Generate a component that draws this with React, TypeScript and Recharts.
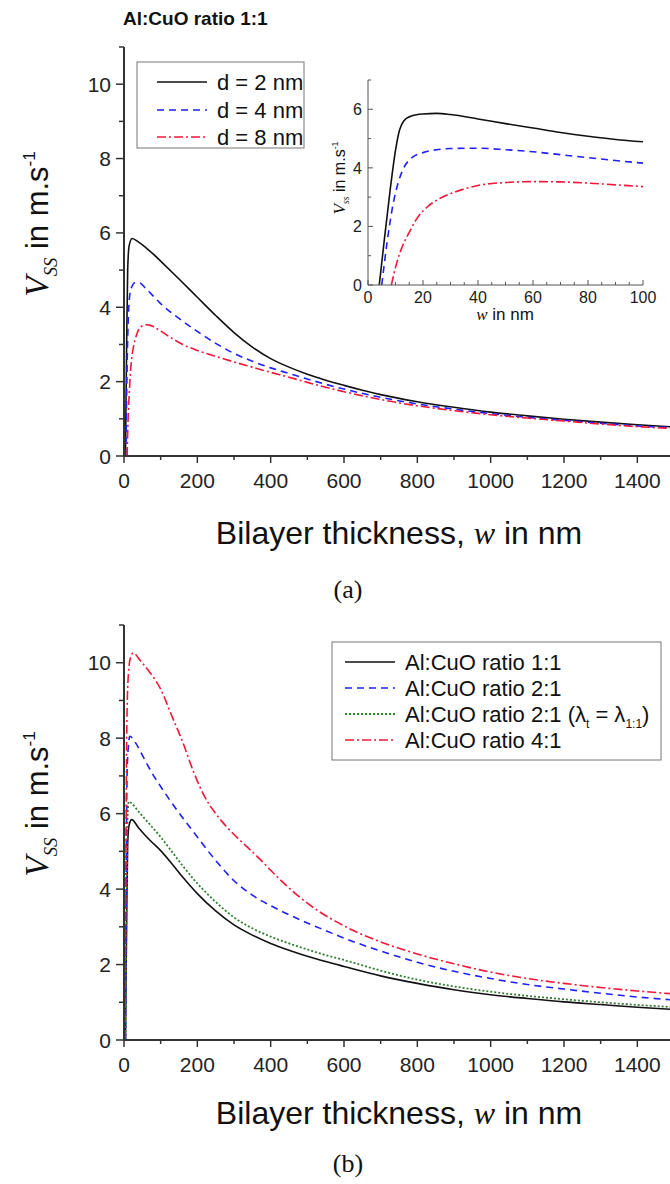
import React from 'react';
import { LineChart, Line, XAxis, YAxis } from 'recharts';

// ---- data ----
// (a) main panel, Vss vs bilayer thickness w (nm)
const A_D2: [number, number][] = [
  [4, 0], [7, 2.8], [10, 5.0], [14, 5.65], [22, 5.85], [40, 5.75], [60, 5.6], [80, 5.43], [100, 5.24],
  [150, 4.76], [200, 4.27], [250, 3.78], [300, 3.32], [350, 2.93], [400, 2.62], [450, 2.39], [500, 2.2],
  [550, 2.04], [600, 1.9], [650, 1.77], [700, 1.65], [800, 1.46], [900, 1.31], [1000, 1.18],
  [1100, 1.08], [1200, 0.99], [1300, 0.91], [1400, 0.84], [1500, 0.78],
];
const A_D4: [number, number][] = [
  [5, 0], [7, 1.5], [9, 2.7], [11, 3.5], [13, 4.0], [16, 4.35], [20, 4.52], [30, 4.66], [40, 4.66],
  [60, 4.5], [80, 4.3], [100, 4.1], [150, 3.7], [200, 3.35], [250, 3.03], [300, 2.76], [350, 2.55],
  [400, 2.37], [450, 2.22], [500, 2.07], [600, 1.8], [700, 1.58], [800, 1.4], [900, 1.26], [1000, 1.14],
  [1100, 1.04], [1200, 0.96], [1300, 0.88], [1400, 0.81], [1500, 0.76],
];
const A_D8: [number, number][] = [
  [8.5, 0], [10, 0.6], [12, 1.2], [15, 1.8], [18, 2.3], [22, 2.7], [26, 2.95], [30, 3.12], [35, 3.28],
  [40, 3.4], [50, 3.5], [60, 3.53], [70, 3.52], [80, 3.48], [100, 3.36], [130, 3.17], [160, 3.0],
  [200, 2.84], [250, 2.68], [300, 2.53], [350, 2.39], [400, 2.25], [450, 2.12], [500, 1.98], [550, 1.85],
  [600, 1.73], [700, 1.52], [800, 1.35], [900, 1.22], [1000, 1.11], [1100, 1.02], [1200, 0.94],
  [1300, 0.86], [1400, 0.79], [1500, 0.74],
];

// (b) main panel
const B_R11: [number, number][] = [
  [4, 0], [7, 3.0], [10, 5.2], [14, 5.7], [21, 5.84], [40, 5.62], [70, 5.3], [100, 5.02], [130, 4.68],
  [160, 4.32], [200, 3.88], [250, 3.42], [300, 3.05], [350, 2.78], [400, 2.56], [450, 2.38], [500, 2.22],
  [550, 2.08], [600, 1.95], [700, 1.7], [800, 1.5], [900, 1.33], [1000, 1.2], [1100, 1.1], [1200, 1.01],
  [1300, 0.94], [1400, 0.87], [1500, 0.81],
];
const B_R21: [number, number][] = [
  [4, 0], [6, 4.5], [9, 7.3], [16, 8.05], [30, 7.9], [50, 7.55], [75, 7.1], [100, 6.72], [125, 6.36],
  [150, 6.02], [175, 5.7], [200, 5.38], [250, 4.76], [300, 4.22], [350, 3.84], [400, 3.56], [450, 3.32],
  [500, 3.1], [550, 2.9], [600, 2.7], [700, 2.36], [800, 2.06], [900, 1.82], [1000, 1.63], [1100, 1.47],
  [1200, 1.35], [1300, 1.24], [1400, 1.14], [1500, 1.06],
];
const B_R21L: [number, number][] = [
  [4, 0], [7, 3.5], [10, 6.0], [13, 6.32], [20, 6.28], [40, 6.05], [70, 5.72], [100, 5.38], [130, 5.0],
  [160, 4.62], [200, 4.15], [250, 3.66], [300, 3.25], [350, 2.96], [400, 2.74], [450, 2.56], [500, 2.4],
  [550, 2.25], [600, 2.12], [700, 1.84], [800, 1.6], [900, 1.42], [1000, 1.28], [1100, 1.17],
  [1200, 1.08], [1300, 1.0], [1400, 0.93], [1500, 0.87],
];
const B_R41: [number, number][] = [
  [3, 0], [5, 4.5], [8, 8.5], [12, 9.7], [18, 10.15], [25, 10.26], [45, 10.05], [70, 9.75], [100, 9.3],
  [130, 8.6], [160, 7.9], [190, 7.1], [220, 6.45], [250, 6.0], [280, 5.65], [310, 5.35], [340, 5.08],
  [370, 4.8], [400, 4.5], [440, 4.12], [480, 3.78], [530, 3.42], [580, 3.13], [630, 2.88], [700, 2.6],
  [800, 2.28], [900, 2.02], [1000, 1.8], [1100, 1.63], [1200, 1.5], [1300, 1.39], [1400, 1.3], [1500, 1.22],
];

// inset of (a), 0-100 nm
const IN_D2: [number, number][] = [
  [4.1, 0], [6, 1.6], [8, 3.2], [10, 4.6], [11.5, 5.3], [13, 5.6], [16, 5.78], [20, 5.84], [25, 5.86],
  [30, 5.82], [40, 5.67], [50, 5.51], [60, 5.36], [70, 5.21], [80, 5.08], [90, 4.97], [100, 4.89],
];
const IN_D4: [number, number][] = [
  [5, 0], [7, 1.5], [9, 2.7], [11, 3.5], [13, 4.0], [16, 4.35], [20, 4.52], [25, 4.62], [30, 4.66],
  [40, 4.67], [50, 4.62], [60, 4.55], [70, 4.45], [80, 4.35], [90, 4.25], [100, 4.16],
];
const IN_D8: [number, number][] = [
  [8.5, 0], [10, 0.6], [12, 1.2], [15, 1.8], [18, 2.3], [22, 2.7], [26, 2.95], [30, 3.12], [35, 3.28],
  [40, 3.4], [50, 3.5], [60, 3.53], [70, 3.52], [80, 3.48], [90, 3.42], [100, 3.36],
];

// ticks
const MAIN_X_MAJOR = [0, 200, 400, 600, 800, 1000, 1200, 1400];
const MAIN_X_MINOR = [100, 300, 500, 700, 900, 1100, 1300, 1500];
const MAIN_Y_MAJOR = [0, 2, 4, 6, 8, 10];
const MAIN_Y_MINOR = [1, 3, 5, 7, 9, 11];
const IN_X_MAJOR = [0, 20, 40, 60, 80, 100];
const IN_X_MINOR = [5, 10, 15, 25, 30, 35, 45, 50, 55, 65, 70, 75, 85, 90, 95];
const IN_Y_MAJOR = [0, 2, 4, 6];
const IN_Y_MINOR = [1, 3, 5, 7];

const BLACK = '#111111';
const BLUE = '#1f1fff';
const RED = '#f01838';
const GREEN = '#2f7f2f';
const AXIS = '#333333';
const SANS = '"Liberation Sans", Arial, sans-serif';
const SERIF = '"Liberation Serif", "Times New Roman", serif';

type Style = { color: string; dash?: string; width: number };
const S_SOLID: Style = { color: BLACK, width: 1.6 };
const S_DASH: Style = { color: BLUE, dash: '7 5', width: 1.6 };
const S_DASHDOT: Style = { color: RED, dash: '9 3 2 3', width: 1.6 };
const S_DOT: Style = { color: GREEN, dash: '2 2', width: 1.8 };

const toRows = (pts: [number, number][]) => pts.map(([w, v]) => ({ w, v }));
const sortTicks = (a: number[], b: number[]) => [...a, ...b].sort((p, q) => p - q);

// tick renderers: x,y come from the axis scale
function makeTick(opts: {
  side: 'bottom' | 'top' | 'left' | 'right';
  majors: number[];
  majorLen: number;
  minorLen: number;
  inward?: boolean;
  label?: boolean;
  fontSize?: number;
  gap?: number;
  stroke?: string;
  sw?: number;
}) {
  return (props: any) => {
    const { x, y, payload } = props;
    const major = opts.majors.includes(payload.value);
    const len = major ? opts.majorLen : opts.minorLen;
    const dir = opts.inward ? -1 : 1;
    let x2 = x;
    let y2 = y;
    if (opts.side === 'bottom') y2 = y + dir * len;
    if (opts.side === 'top') y2 = y - dir * len;
    if (opts.side === 'left') x2 = x - dir * len;
    if (opts.side === 'right') x2 = x + dir * len;
    const fs = opts.fontSize ?? 21;
    let lbl = null;
    if (opts.label && major) {
      if (opts.side === 'bottom') {
        lbl = (
          <text x={x} y={y + (opts.gap ?? 32)} textAnchor="middle" fontSize={fs} fontFamily={SANS} fill="#222">
            {payload.value}
          </text>
        );
      } else if (opts.side === 'left') {
        lbl = (
          <text x={x - (opts.gap ?? 13)} y={y} dy="0.36em" textAnchor="end" fontSize={fs} fontFamily={SANS} fill="#222">
            {payload.value}
          </text>
        );
      }
    }
    return (
      <g>
        <line x1={x} y1={y} x2={x2} y2={y2} stroke={opts.stroke ?? AXIS} strokeWidth={opts.sw ?? 1.5} />
        {lbl}
      </g>
    );
  };
}

const mainBottomTick = makeTick({ side: 'bottom', majors: MAIN_X_MAJOR, majorLen: 7, minorLen: 4, label: true });
const mainTopTick = makeTick({ side: 'top', majors: MAIN_X_MAJOR, majorLen: 7, minorLen: 4 });
const mainLeftTick = makeTick({ side: 'left', majors: MAIN_Y_MAJOR, majorLen: 8, minorLen: 5, label: true });

const inBottomTick = makeTick({ side: 'bottom', majors: IN_X_MAJOR, majorLen: 5, minorLen: 3, inward: true, label: true, fontSize: 16, gap: 18, stroke: '#555', sw: 1 });
const inTopTick = makeTick({ side: 'top', majors: IN_X_MAJOR, majorLen: 5, minorLen: 3, inward: true, stroke: '#555', sw: 1 });
const inLeftTick = makeTick({ side: 'left', majors: IN_Y_MAJOR, majorLen: 5, minorLen: 3, inward: true, label: true, fontSize: 16, gap: 6, stroke: '#555', sw: 1 });
const inRightTick = makeTick({ side: 'right', majors: IN_Y_MAJOR, majorLen: 5, minorLen: 3, inward: true, stroke: '#555', sw: 1 });

type SeriesDef = { key: string; pts: [number, number][]; style: Style };

function MainPanel({ top, height, series }: { top: number; height: number; series: SeriesDef[] }) {
  const xt = sortTicks(MAIN_X_MAJOR, MAIN_X_MINOR);
  const yt = sortTicks(MAIN_Y_MAJOR, MAIN_Y_MINOR);
  return (
    <div style={{ position: 'absolute', left: 0, top }}>
      <LineChart width={684} height={height} margin={{ top: 47, right: 10, bottom: 14, left: 64 }}>
        <XAxis xAxisId="x" dataKey="w" type="number" domain={[0, 1500]} ticks={xt} interval={0}
          height={30} tickSize={0} tickMargin={0} tick={mainBottomTick} tickLine={false}
          axisLine={{ stroke: AXIS, strokeWidth: 2 }} allowDataOverflow />
        <XAxis xAxisId="xt" orientation="top" type="number" domain={[0, 1500]} ticks={xt} interval={0}
          height={0} tickSize={0} tickMargin={0} tick={mainTopTick} tickLine={false}
          axisLine={{ stroke: AXIS, strokeWidth: 2 }} allowDataOverflow />
        <YAxis yAxisId="y" type="number" domain={[0, 11]} ticks={yt} interval={0} width={60}
          tickSize={0} tickMargin={0} tick={mainLeftTick} tickLine={false}
          axisLine={{ stroke: AXIS, strokeWidth: 2 }} allowDataOverflow />
        {series.map((s) => (
          <Line key={s.key} xAxisId="x" yAxisId="y" data={toRows(s.pts)} dataKey="v" type="monotone"
            stroke={s.style.color} strokeWidth={s.style.width} strokeDasharray={s.style.dash}
            dot={false} activeDot={false} isAnimationActive={false} />
        ))}
      </LineChart>
    </div>
  );
}

function Inset() {
  const xt = sortTicks(IN_X_MAJOR, IN_X_MINOR);
  const yt = sortTicks(IN_Y_MAJOR, IN_Y_MINOR);
  const box = { stroke: '#555', strokeWidth: 1 };
  const lines: SeriesDef[] = [
    { key: 'i2', pts: IN_D2, style: S_SOLID },
    { key: 'i4', pts: IN_D4, style: S_DASH },
    { key: 'i8', pts: IN_D8, style: S_DASHDOT },
  ];
  return (
    <div style={{ position: 'absolute', left: 300, top: 60 }}>
      <LineChart width={360} height={290} margin={{ top: 20, right: 17, bottom: 35, left: 38 }}>
        <XAxis xAxisId="x" dataKey="w" type="number" domain={[0, 100]} ticks={xt} interval={0}
          height={30} tickSize={0} tickMargin={0} tick={inBottomTick} tickLine={false} axisLine={box} allowDataOverflow />
        <XAxis xAxisId="xt" orientation="top" type="number" domain={[0, 100]} ticks={xt} interval={0}
          height={0} tickSize={0} tickMargin={0} tick={inTopTick} tickLine={false} axisLine={box} allowDataOverflow />
        <YAxis yAxisId="y" type="number" domain={[0, 7]} ticks={yt} interval={0} width={30}
          tickSize={0} tickMargin={0} tick={inLeftTick} tickLine={false} axisLine={box} allowDataOverflow />
        <YAxis yAxisId="yr" orientation="right" type="number" domain={[0, 7]} ticks={yt} interval={0} width={0}
          tickSize={0} tickMargin={0} tick={inRightTick} tickLine={false} axisLine={box} allowDataOverflow />
        {lines.map((s) => (
          <Line key={s.key} xAxisId="x" yAxisId="y" data={toRows(s.pts)} dataKey="v" type="monotone"
            stroke={s.style.color} strokeWidth={s.style.width} strokeDasharray={s.style.dash}
            dot={false} activeDot={false} isAnimationActive={false} />
        ))}
      </LineChart>
    </div>
  );
}

function VssLabel({ x, y, big }: { x: number; y: number; big: boolean }) {
  const f = big ? 31 : 16;
  return (
    <text transform={`translate(${x},${y}) rotate(-90)`} textAnchor="middle" fill="#111">
      <tspan fontFamily={SERIF} fontStyle="italic" fontSize={f * 1.08}>V</tspan>
      <tspan fontFamily={SERIF} fontStyle="italic" fontSize={f * 0.6} dy={f * 0.28}>{big ? 'SS' : 'ss'}</tspan>
      <tspan fontFamily={SANS} fontSize={f} dy={-f * 0.28}> in m.s</tspan>
      <tspan fontFamily={SANS} fontSize={f * 0.55} dy={-f * 0.42}>-1</tspan>
    </text>
  );
}

function XTitle({ y }: { y: number }) {
  return (
    <text x={399} y={y} textAnchor="middle" fontSize={32} fill="#111">
      <tspan fontFamily={SANS}>Bilayer thickness, </tspan>
      <tspan fontFamily={SERIF} fontStyle="italic">w</tspan>
      <tspan fontFamily={SANS}> in nm</tspan>
    </text>
  );
}

function LegendRow({ x, y, s, children }: { x: number; y: number; s: Style; children: React.ReactNode }) {
  return (
    <g>
      <line x1={x} x2={x + 50} y1={y} y2={y} stroke={s.color} strokeWidth={s.width} strokeDasharray={s.dash} />
      <text x={x + 60} y={y + 8} fontSize={22} fontFamily={SANS} fill="#111">{children}</text>
    </g>
  );
}

export default function App() {
  const topSeries: SeriesDef[] = [
    { key: 'd2', pts: A_D2, style: S_SOLID },
    { key: 'd4', pts: A_D4, style: S_DASH },
    { key: 'd8', pts: A_D8, style: S_DASHDOT },
  ];
  const botSeries: SeriesDef[] = [
    { key: 'r11', pts: B_R11, style: S_SOLID },
    { key: 'r21l', pts: B_R21L, style: S_DOT },
    { key: 'r21', pts: B_R21, style: S_DASH },
    { key: 'r41', pts: B_R41, style: S_DASHDOT },
  ];
  return (
    <div style={{ position: 'absolute', left: 0, top: 0, width: 670, height: 1184, overflow: 'hidden', background: '#fff' }}>
      <MainPanel top={0} height={500} series={topSeries} />
      <Inset />
      <MainPanel top={578} height={506} series={botSeries} />
      <svg width={670} height={1184} style={{ position: 'absolute', left: 0, top: 0, pointerEvents: 'none' }}>
        <text x={123} y={25} fontSize={19} fontWeight="bold" fontFamily={SANS} fill="#111">Al:CuO ratio 1:1</text>

        <VssLabel x={48} y={224} big />
        <VssLabel x={48} y={804} big />
        <VssLabel x={345} y={178} big={false} />

        <XTitle y={544} />
        <XTitle y={1124} />
        <text x={348} y={598} textAnchor="middle" fontSize={26} fontFamily={SERIF} fill="#111">(a)</text>
        <text x={348} y={1172} textAnchor="middle" fontSize={26} fontFamily={SERIF} fill="#111">(b)</text>

        <text x={505} y={320} textAnchor="middle" fontSize={17} fill="#111">
          <tspan fontFamily={SERIF} fontStyle="italic">w</tspan>
          <tspan fontFamily={SANS}> in nm</tspan>
        </text>

        {/* legend (a) */}
        <rect x={137} y={62} width={167} height={86} fill="#fff" stroke="#777" strokeWidth={1} />
        <LegendRow x={157} y={82} s={S_SOLID}>d = 2 nm</LegendRow>
        <LegendRow x={157} y={110} s={S_DASH}>d = 4 nm</LegendRow>
        <LegendRow x={157} y={137} s={S_DASHDOT}>d = 8 nm</LegendRow>

        {/* legend (b) */}
        <rect x={332} y={642} width={329} height={118} fill="#fff" stroke="#777" strokeWidth={1} />
        <LegendRow x={345} y={662} s={S_SOLID}>Al:CuO ratio 1:1</LegendRow>
        <LegendRow x={345} y={688} s={S_DASH}>Al:CuO ratio 2:1</LegendRow>
        <LegendRow x={345} y={714} s={S_DOT}>
          Al:CuO ratio 2:1 (λ<tspan fontSize={12} dy={6}>t</tspan>
          <tspan dy={-6}> = λ</tspan>
          <tspan fontSize={12} dy={6}>1:1</tspan>
          <tspan dy={-6}>)</tspan>
        </LegendRow>
        <LegendRow x={345} y={740} s={S_DASHDOT}>Al:CuO ratio 4:1</LegendRow>
      </svg>
    </div>
  );
}
